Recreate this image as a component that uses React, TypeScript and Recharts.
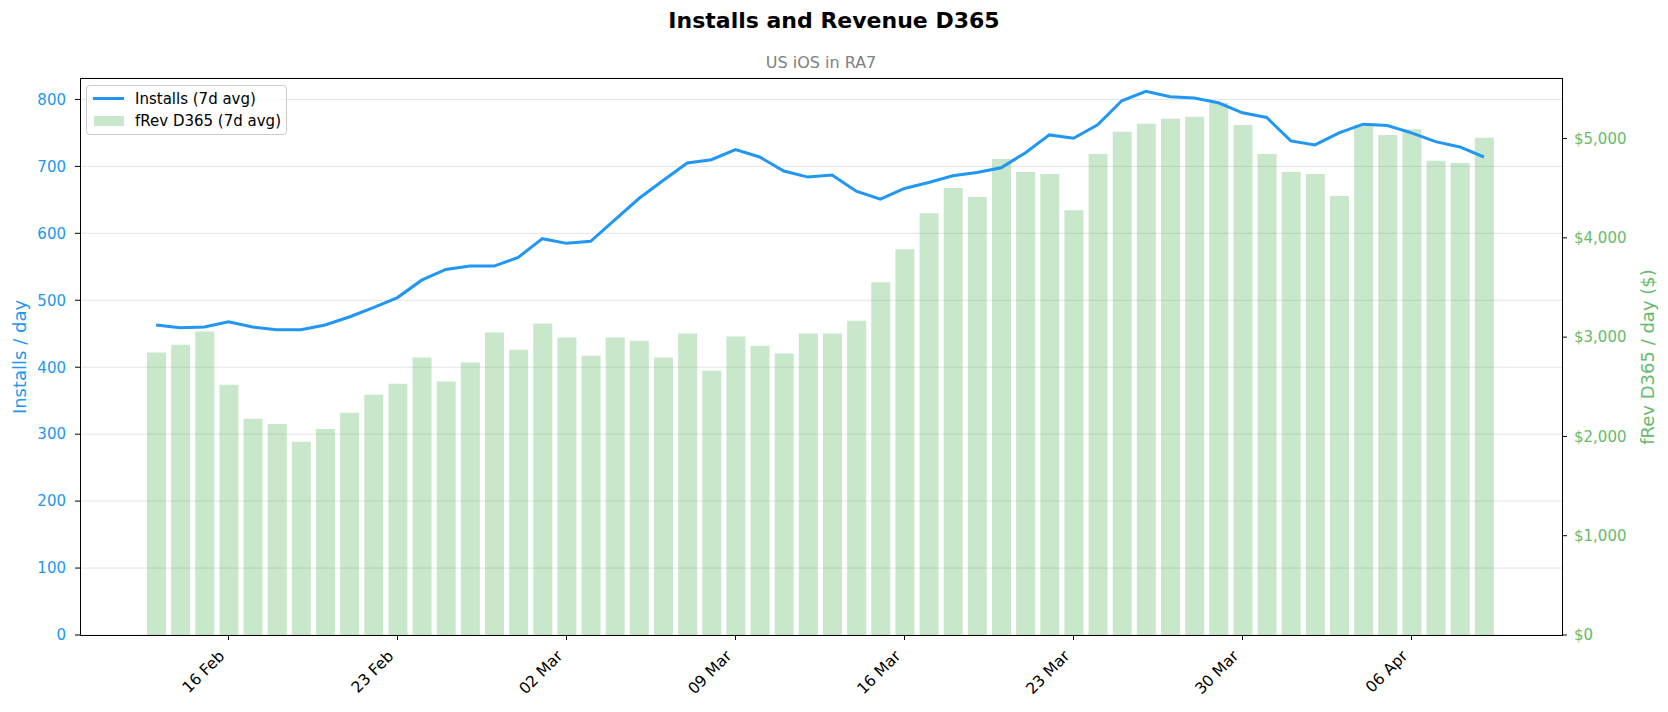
import { ComposedChart, Bar, Line, XAxis, YAxis, CartesianGrid } from 'recharts'

const dates = [
  '13 Feb', '14 Feb', '15 Feb', '16 Feb', '17 Feb', '18 Feb', '19 Feb', '20 Feb',
  '21 Feb', '22 Feb', '23 Feb', '24 Feb', '25 Feb', '26 Feb', '27 Feb', '28 Feb',
  '01 Mar', '02 Mar', '03 Mar', '04 Mar', '05 Mar', '06 Mar', '07 Mar', '08 Mar',
  '09 Mar', '10 Mar', '11 Mar', '12 Mar', '13 Mar', '14 Mar', '15 Mar', '16 Mar',
  '17 Mar', '18 Mar', '19 Mar', '20 Mar', '21 Mar', '22 Mar', '23 Mar', '24 Mar',
  '25 Mar', '26 Mar', '27 Mar', '28 Mar', '29 Mar', '30 Mar', '31 Mar', '01 Apr',
  '02 Apr', '03 Apr', '04 Apr', '05 Apr', '06 Apr', '07 Apr', '08 Apr', '09 Apr',
]

// installs per day, 7d rolling avg
const installs = [
  463, 459, 460, 468, 460, 456, 456, 463, 475, 489, 504, 530, 546, 551, 551, 564,
  592, 585, 588, 620, 652, 679, 705, 710, 725, 714, 693, 684, 687, 663, 651, 667,
  676, 686, 691, 698, 720, 747, 742, 762, 798, 812, 804, 802, 795, 780, 773, 738,
  732, 750, 763, 761, 750, 737, 729, 714,
]

// fRev D365 per day ($), 7d rolling avg
const revenue = [
  2845, 2924, 3058, 2520, 2177, 2126, 1946, 2076, 2238, 2419, 2531, 2794, 2552, 2744, 3047, 2874,
  3137, 2996, 2812, 2996, 2964, 2794, 3036, 2661, 3007, 2913, 2834, 3036, 3036, 3166, 3552, 3884,
  4249, 4502, 4412, 4794, 4664, 4643, 4278, 4845, 5069, 5148, 5199, 5220, 5361, 5137, 4845, 4664,
  4643, 4422, 5141, 5036, 5094, 4776, 4755, 5007,
]

const dateTicks = ['16 Feb', '23 Feb', '02 Mar', '09 Mar', '16 Mar', '23 Mar', '30 Mar', '06 Apr']
const installTicks = [0, 100, 200, 300, 400, 500, 600, 700, 800]
const revenueTicks = [0, 1000, 2000, 3000, 4000, 5000]

const data = dates.map((d, i) => ({ date: d, installs: installs[i], revenue: revenue[i] }))

const BLUE = '#2196F3'
const GREEN = '#4CAF50'
const GREEN_TEXT = '#66BB6A'
const FONT = '"DejaVu Sans", Verdana, sans-serif'

// plot rect in page px
const PL = 80, PR = 1562, PT = 78, PB = 635

function DateTick({ x, y, payload }: any) {
  const px = x - 3
  const py = y + 14
  return (
    <text x={px} y={py} transform={`rotate(-45 ${px} ${py})`} textAnchor="end"
      fontSize={15.5} fontFamily={FONT} fill="#000">
      {payload.value}
    </text>
  )
}

const money = (v: number) => '$' + v.toLocaleString('en-US')

export default function App() {
  return (
    <div style={{ position: 'absolute', left: 0, top: 0, width: 1668, height: 712, background: '#fff', fontFamily: FONT }}>
      <div style={{ position: 'absolute', left: 0, width: 1668, top: 8, textAlign: 'center', fontSize: 22, fontWeight: 'bold', lineHeight: '26px' }}>
        Installs and Revenue D365
      </div>
      <div style={{ position: 'absolute', left: PL, width: PR - PL, top: 53, textAlign: 'center', fontSize: 16, color: '#808080', lineHeight: '20px' }}>
        US iOS in RA7
      </div>

      <ComposedChart width={1668} height={712} data={data}
        margin={{ top: PT, left: PL - 60, right: 1668 - PR - 70, bottom: 712 - PB - 60 }}>
        <CartesianGrid yAxisId="left" vertical={false} stroke="#e4e4e4" strokeWidth={1} />
        <XAxis dataKey="date" ticks={dateTicks} interval={0} height={60}
          padding={{ left: 64, right: 66 }} axisLine={false}
          tickSize={5} tickMargin={3} tickLine={{ stroke: '#000' }} tick={<DateTick />} />
        <YAxis yAxisId="left" width={60} domain={[0, 832]} ticks={installTicks} axisLine={false}
          tickSize={5} tickMargin={9} tickLine={{ stroke: '#000' }}
          tick={{ fill: BLUE, fontSize: 15, fontFamily: FONT }} />
        <YAxis yAxisId="right" orientation="right" width={70} domain={[0, 5610]} ticks={revenueTicks}
          axisLine={false} tickSize={5} tickMargin={7} tickLine={{ stroke: '#000' }}
          tickFormatter={money} tick={{ fill: GREEN_TEXT, fontSize: 15, fontFamily: FONT }} />
        <Line yAxisId="left" dataKey="installs" stroke={BLUE} strokeWidth={3} dot={false}
          activeDot={false} isAnimationActive={false} />
        <Bar yAxisId="right" dataKey="revenue" fill={GREEN} fillOpacity={0.3} barSize={19}
          isAnimationActive={false} />
      </ComposedChart>

      {/* spines */}
      <div style={{ position: 'absolute', left: PL - 0.5, top: PT - 0.5, width: PR - PL + 1, height: PB - PT + 1,
        border: '1.2px solid #000', boxSizing: 'border-box', pointerEvents: 'none' }} />

      <div style={{ position: 'absolute', left: 19, top: (PT + PB) / 2, transform: 'translate(-50%, -50%) rotate(-90deg)',
        whiteSpace: 'nowrap', fontSize: 18, color: BLUE }}>
        Installs / day
      </div>
      <div style={{ position: 'absolute', left: 1647, top: (PT + PB) / 2, transform: 'translate(-50%, -50%) rotate(-90deg)',
        whiteSpace: 'nowrap', fontSize: 18, color: GREEN_TEXT }}>
        fRev D365 / day ($)
      </div>

      {/* legend */}
      <div style={{ position: 'absolute', left: 86, top: 85, width: 201, height: 50, boxSizing: 'border-box',
        border: '1px solid #cccccc', borderRadius: 4, background: 'rgba(255,255,255,0.8)' }}>
        <div style={{ position: 'absolute', left: 6, top: 11, width: 31, height: 3, background: BLUE }} />
        <div style={{ position: 'absolute', left: 7, top: 30, width: 30, height: 10, background: GREEN, opacity: 0.3 }} />
        <div style={{ position: 'absolute', left: 48, top: 3, fontSize: 15, lineHeight: '20px', whiteSpace: 'nowrap' }}>Installs (7d avg)</div>
        <div style={{ position: 'absolute', left: 48, top: 25, fontSize: 15, lineHeight: '20px', whiteSpace: 'nowrap' }}>fRev D365 (7d avg)</div>
      </div>
    </div>
  )
}
